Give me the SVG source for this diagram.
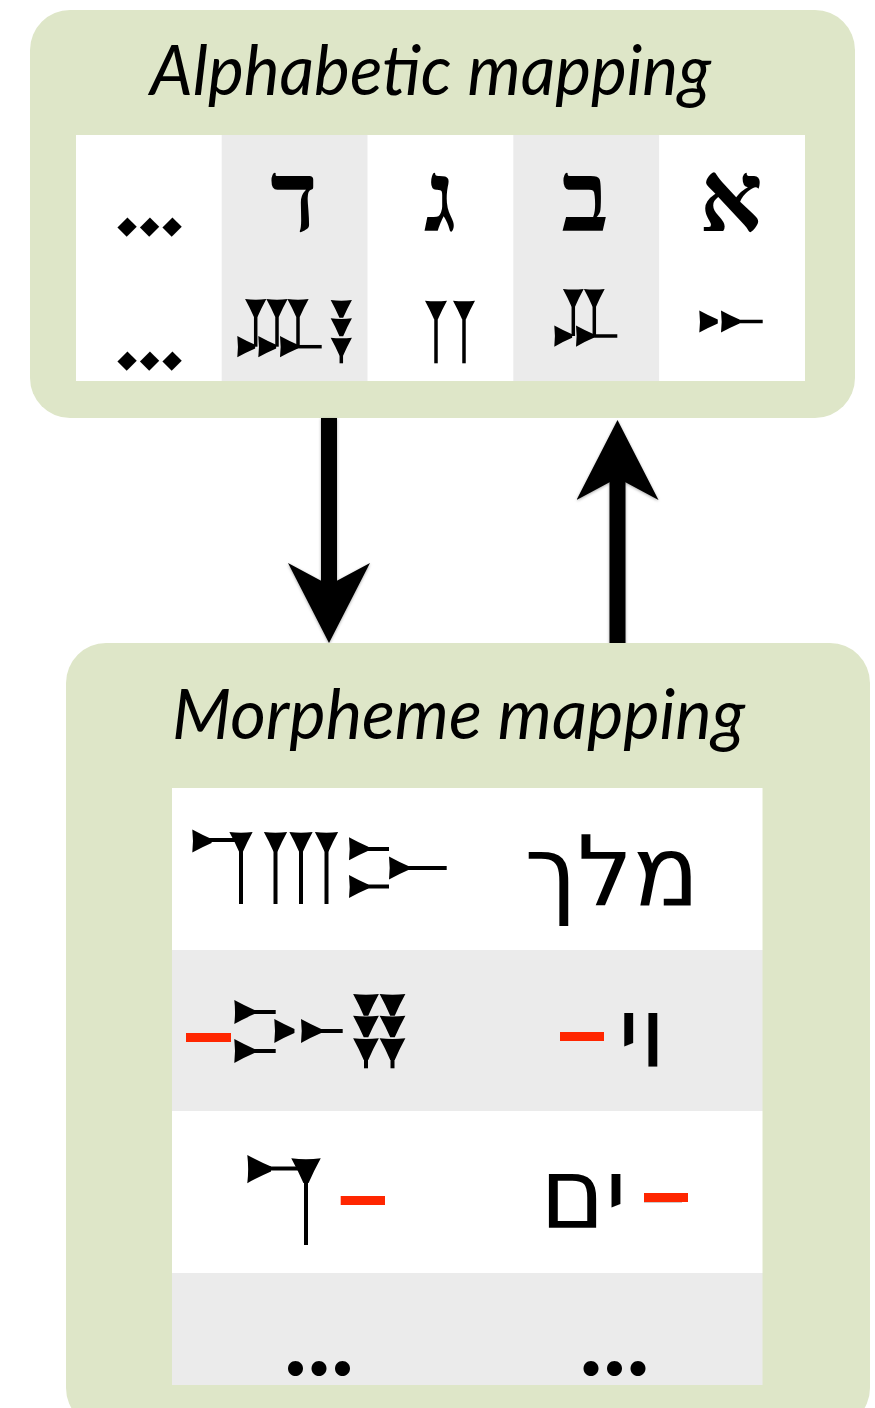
<svg xmlns="http://www.w3.org/2000/svg" width="875" height="1408" viewBox="0 0 875 1408">
<style>
.box{fill:#dee6c8}
.cw{fill:#ffffff}
.cg{fill:#ebebeb}
.title{font-family:Lato,"Open Sans","Liberation Sans",sans-serif;font-style:italic;font-size:70px;fill:#000}
.heb1{font-family:"Liberation Serif","DejaVu Serif",serif;font-weight:bold;font-size:99px;text-anchor:middle;fill:#000}
.heb2{font-family:"DejaVu Sans","Liberation Sans",sans-serif;font-size:98px;text-anchor:middle;fill:#000}
.dia{font-family:"DejaVu Sans",sans-serif;font-weight:bold;font-size:75px;letter-spacing:-6px;fill:#000}
.dots{font-family:Lato,"Liberation Sans",sans-serif;font-weight:bold;font-size:99px;text-anchor:middle;fill:#000}
.t{stroke:#000;stroke-width:4;fill:none}
.t3{stroke:#000;stroke-width:3.5;fill:none}
.red{fill:#ff2600}
.conn{stroke:#000;stroke-width:16;fill:none}
</style>
<defs>
<path id="vw" d="M-12.5,0 Q0,1.5 12.5,0 Q6.5,11 2.2,21 L-2.2,21 Q-6.5,11 -12.5,0 Z"/>
<path id="hw" d="M0,-12.5 Q1.5,0 0,12.5 Q11,6.5 21,2.2 L21,-2.2 Q11,-6.5 0,-12.5 Z"/>
<marker id="ah" markerUnits="userSpaceOnUse" viewBox="0 -41 80 82" markerWidth="80" markerHeight="82" refX="22" refY="0" orient="auto">
<path d="M80,0 L0,-41 L22,0 L0,41 Z" fill="#000"/>
</marker>
<filter id="sh" filterUnits="userSpaceOnUse" x="0" y="0" width="875" height="1408">
<feDropShadow dx="0" dy="1" stdDeviation="1.5" flood-color="#000" flood-opacity="0.35"/>
</filter>
</defs>

<g id="alphabetic-mapping">
<rect class="box" x="30" y="10" width="825" height="408" rx="40"/>
<text class="title" x="150" y="95" textLength="561" lengthAdjust="spacingAndGlyphs">Alphabetic mapping</text>
<rect class="cw" x="76" y="135" width="729" height="246"/>
<rect class="cg" x="221.7" y="135" width="145.8" height="246"/>
<rect class="cg" x="513.3" y="135" width="145.8" height="246"/>

<g id="col-ellipsis">
<text class="dia" x="112" y="222" rotate="45">...</text>
<text class="dia" x="112" y="356" rotate="45">...</text>
</g>

<g id="col-dalet">
<text class="heb1" x="294" y="231">ד</text>
<use href="#vw" transform="translate(255.7,299) scale(0.85)"/>
<use href="#vw" transform="translate(277,299) scale(0.85)"/>
<use href="#vw" transform="translate(298,299) scale(0.85)"/>
<line class="t3" x1="255.7" y1="314" x2="255.7" y2="346.7"/>
<line class="t3" x1="277" y1="314" x2="277" y2="346.7"/>
<line class="t3" x1="298" y1="314" x2="298" y2="346.7"/>
<use href="#hw" transform="translate(237.3,346.7) scale(0.85)"/>
<use href="#hw" transform="translate(258.3,346.7) scale(0.85)"/>
<use href="#hw" transform="translate(280,346.7) scale(0.85)"/>
<line class="t3" x1="294" y1="346.7" x2="321.7" y2="346.7"/>
<use href="#vw" transform="translate(341.3,300) scale(0.85)"/>
<use href="#vw" transform="translate(341.3,318.3) scale(0.85)"/>
<use href="#vw" transform="translate(341.3,337.7) scale(0.85)"/>
<line class="t3" x1="341.3" y1="354" x2="341.3" y2="363.3"/>
</g>

<g id="col-gimel">
<text class="heb1" x="440" y="231">ג</text>
<use href="#vw" transform="translate(436,300.7) scale(0.88)"/>
<use href="#vw" transform="translate(464,300.7) scale(0.88)"/>
<line class="t3" x1="436" y1="317" x2="436" y2="363.3"/>
<line class="t3" x1="464" y1="317" x2="464" y2="363.3"/>
</g>

<g id="col-bet">
<text class="heb1" x="585" y="231">ב</text>
<use href="#vw" transform="translate(573.3,289) scale(0.83)"/>
<use href="#vw" transform="translate(594.3,289) scale(0.83)"/>
<line class="t3" x1="573.3" y1="304" x2="573.3" y2="336"/>
<line class="t3" x1="594.3" y1="304" x2="594.3" y2="336"/>
<use href="#hw" transform="translate(554.3,336) scale(0.85)"/>
<use href="#hw" transform="translate(576,336) scale(0.85)"/>
<line class="t3" x1="590" y1="336" x2="617.3" y2="336"/>
</g>

<g id="col-alef">
<text class="heb1" x="731" y="231">א</text>
<use href="#hw" transform="translate(699.3,321.5) scale(0.88)"/>
<use href="#hw" transform="translate(721,321.5) scale(0.88)"/>
<line class="t3" x1="736" y1="321.5" x2="762.7" y2="321.5"/>
</g>
</g>

<g id="connectors" filter="url(#sh)">
<line class="conn" x1="329" y1="418" x2="329" y2="585" marker-end="url(#ah)"/>
<line class="conn" x1="617.5" y1="645" x2="617.5" y2="478" marker-end="url(#ah)"/>
</g>

<g id="morpheme-mapping">
<rect class="box" x="66" y="643" width="804" height="785" rx="40"/>
<text class="title" x="172" y="739" textLength="573" lengthAdjust="spacingAndGlyphs">Morpheme mapping</text>
<rect class="cw" x="172" y="788" width="590.5" height="162"/>
<rect class="cg" x="172" y="950" width="590.5" height="161"/>
<rect class="cw" x="172" y="1111" width="590.5" height="162"/>
<rect class="cg" x="172" y="1273" width="590.5" height="112"/>

<g id="row-mlk">
<use href="#hw" transform="translate(192.3,841) scale(0.92)"/>
<line class="t" x1="208" y1="840" x2="236" y2="840"/>
<use href="#vw" transform="translate(241,832) scale(0.93)"/>
<use href="#vw" transform="translate(275.5,832) scale(0.93)"/>
<use href="#vw" transform="translate(301,832) scale(0.93)"/>
<use href="#vw" transform="translate(326.5,832) scale(0.93)"/>
<line class="t" x1="241" y1="850" x2="241" y2="904"/>
<line class="t" x1="275.5" y1="850" x2="275.5" y2="904"/>
<line class="t" x1="301" y1="850" x2="301" y2="904"/>
<line class="t" x1="326.5" y1="850" x2="326.5" y2="904"/>
<use href="#hw" transform="translate(349,848.7) scale(0.92)"/>
<line class="t" x1="366" y1="849" x2="389" y2="849"/>
<use href="#hw" transform="translate(349,886.5) scale(0.92)"/>
<line class="t" x1="366" y1="886.5" x2="389" y2="886.5"/>
<use href="#hw" transform="translate(389,868) scale(0.92)"/>
<line class="t" x1="406" y1="868" x2="446.7" y2="868"/>
<text class="heb2" x="612" y="906">מלך</text>
</g>

<g id="row-wy">
<rect class="red" x="186" y="1033" width="45" height="9"/>
<use href="#hw" transform="translate(234.3,1012) scale(0.96)"/>
<line class="t" x1="252" y1="1012" x2="275.7" y2="1012"/>
<use href="#hw" transform="translate(234.3,1051) scale(0.96)"/>
<line class="t" x1="252" y1="1051" x2="275.7" y2="1051"/>
<use href="#hw" transform="translate(274.3,1031) scale(0.96)"/>
<use href="#hw" transform="translate(301,1031) scale(0.96)"/>
<line class="t" x1="318" y1="1031" x2="342.7" y2="1031"/>
<use href="#vw" transform="translate(366,994) scale(1.03)"/>
<use href="#vw" transform="translate(366,1015.7) scale(1.03)"/>
<use href="#vw" transform="translate(366,1038.3) scale(1.03)"/>
<use href="#vw" transform="translate(392.5,994) scale(1.03)"/>
<use href="#vw" transform="translate(392.5,1015.7) scale(1.03)"/>
<use href="#vw" transform="translate(392.5,1038.3) scale(1.03)"/>
<line class="t" x1="366" y1="1056" x2="366" y2="1068.3"/>
<line class="t" x1="392.5" y1="1056" x2="392.5" y2="1068.3"/>
<rect class="red" x="560" y="1032" width="44" height="9"/>
<text class="heb2" x="642" y="1067">וי</text>
</g>

<g id="row-ym">
<use href="#hw" transform="translate(247.3,1169) scale(1.13)"/>
<line class="t" x1="268" y1="1168.5" x2="300" y2="1168.5" stroke-width="4.5"/>
<use href="#vw" transform="translate(306,1158.3) scale(1.18)"/>
<line class="t" x1="306" y1="1180" x2="306" y2="1245" stroke-width="4.5"/>
<rect class="red" x="340.7" y="1196" width="44.3" height="9"/>
<text class="heb2" x="583.5" y="1228">ים</text>
<rect x="644" y="1200" width="38" height="2.2" fill="#000"/>
<rect class="red" x="644" y="1193" width="44" height="9"/>
</g>

<g id="row-more">
<text class="dots" x="319" y="1375">...</text>
<text class="dots" x="614.5" y="1375">...</text>
</g>
</g>
</svg>
